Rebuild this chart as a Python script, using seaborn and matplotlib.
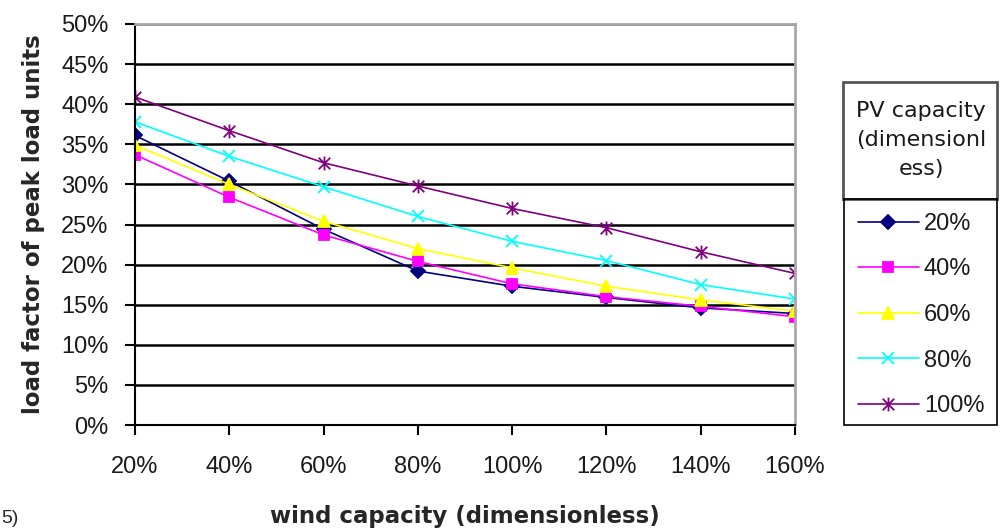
import numpy as np
import pandas as pd
import matplotlib
matplotlib.use("Agg")
import matplotlib.pyplot as plt
from matplotlib.path import Path
from matplotlib.patches import Rectangle
from matplotlib.ticker import FuncFormatter
import seaborn as sns

# ---- data (values in percent) ----
wind = [20, 40, 60, 80, 100, 120, 140, 160]
pv_levels = ["20%", "40%", "60%", "80%", "100%"]
pv20 = [36.1, 30.4, 24.4, 19.2, 17.3, 15.9, 14.6, 13.9]
pv40 = [33.7, 28.4, 23.7, 20.4, 17.6, 16.0, 14.8, 13.5]
pv60 = [34.9, 30.0, 25.4, 22.0, 19.6, 17.3, 15.6, 14.2]
pv80 = [37.8, 33.5, 29.7, 26.0, 22.9, 20.5, 17.5, 15.7]
pv100 = [40.9, 36.7, 32.7, 29.8, 27.0, 24.6, 21.6, 18.9]
x_ticks = [20, 40, 60, 80, 100, 120, 140, 160]
y_ticks = [0, 5, 10, 15, 20, 25, 30, 35, 40, 45, 50]

series = [pv20, pv40, pv60, pv80, pv100]
df = pd.DataFrame({
    "wind": np.tile(wind, len(pv_levels)),
    "load": np.concatenate(series),
    "pv": np.repeat(pv_levels, len(wind)),
})

colors = ["#000080", "#FF00FF", "#FFFF00", "#00FFFF", "#800080"]
star = Path([(-1, -1), (1, 1), (-1, 1), (1, -1), (0, -1.2), (0, 1.2)],
            [Path.MOVETO, Path.LINETO, Path.MOVETO, Path.LINETO, Path.MOVETO, Path.LINETO])
markers = ["D", "s", "^", "x", star]
msizes = [7, 7.5, 9, 9, 10]

sns.set_style("white")
plt.rcParams["font.family"] = ["Liberation Sans", "DejaVu Sans"]

fig = plt.figure(figsize=(10.01, 5.31), dpi=100)
ax = fig.add_axes([135 / 1001, 1 - 425 / 531, (795 - 135) / 1001, (425 - 24) / 531])

sns.lineplot(data=df, x="wind", y="load", hue="pv",
             hue_order=pv_levels,
             palette=dict(zip(pv_levels, colors)),
             linewidth=1.2, legend=False, ax=ax)

for line, c, m, ms in zip(ax.lines, colors, markers, msizes):
    line.set_color(c)
    line.set_marker(m)
    line.set_markeredgecolor(c)
    line.set_markerfacecolor(c)
    line.set_markersize(ms)
    line.set_markeredgewidth(1.3)

ax.set_xlim(20, 160)
ax.set_ylim(0, 50)
ax.set_xticks(x_ticks)
ax.set_yticks(y_ticks)
pct = FuncFormatter(lambda v, p: f"{v:.0f}%")
ax.xaxis.set_major_formatter(pct)
ax.yaxis.set_major_formatter(pct)
ax.grid(axis="y", color="black", linewidth=1.8)
ax.grid(axis="x", visible=False)
ax.set_axisbelow(True)

for s in ["left", "bottom"]:
    ax.spines[s].set_color("black")
    ax.spines[s].set_linewidth(1.5)
for s in ["top", "right"]:
    ax.spines[s].set_color("#a8a8a8")
    ax.spines[s].set_linewidth(2)

ax.tick_params(axis="y", direction="out", length=7, width=1.5, pad=12,
               labelsize=17, left=True, colors="black")
ax.tick_params(axis="x", direction="out", length=7, width=1.5, pad=15,
               labelsize=17, bottom=True, colors="black")
for lab in ax.get_xticklabels() + ax.get_yticklabels():
    lab.set_color("#1a1a1a")

ax.set_xlabel("wind capacity (dimensionless)", fontsize=16.5, fontweight="bold",
              family=["DejaVu Sans"])
ax.set_ylabel("load factor of peak load units", fontsize=16.5, fontweight="bold",
              family=["DejaVu Sans"])
ax.xaxis.set_label_coords(0.5, (425 - 505) / 401)
ax.yaxis.set_label_coords((45 - 135) / 660, 0.5)

# legend boxes
tb = Rectangle((843 / 1001, 1 - 199 / 531), (997 - 843) / 1001, (199 - 82) / 531,
               transform=fig.transFigure, fill=False, edgecolor="#555555", linewidth=2)
eb = Rectangle((844 / 1001, 1 - 425 / 531), (997 - 844) / 1001, (425 - 199) / 531,
               transform=fig.transFigure, fill=False, edgecolor="black", linewidth=1.2)
fig.add_artist(tb)
fig.add_artist(eb)
fig.text(921 / 1001, 1 - 140 / 531, "PV capacity\n(dimensionl\ness)", ha="center",
         va="center", fontsize=16, linespacing=1.55, color="#1a1a1a",
         family=["DejaVu Sans"])

leg = ax.legend(ax.lines, pv_levels, loc="center",
                bbox_to_anchor=(921 / 1001, 1 - 315 / 531),
                bbox_transform=fig.transFigure, frameon=False, fontsize=17,
                handlelength=2.6, handletextpad=0.2, labelspacing=1.0,
                borderaxespad=0)
for t in leg.get_texts():
    t.set_color("#1a1a1a")

fig.text(1 / 1001, 4 / 531, "5)", ha="left", va="bottom", fontsize=14)

fig.savefig("out.png", dpi=100)
